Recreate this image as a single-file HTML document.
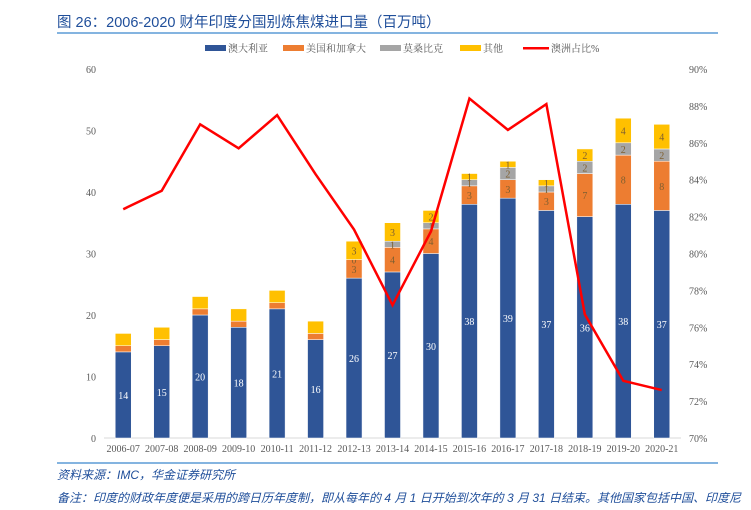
<!DOCTYPE html>
<html><head><meta charset="utf-8"><style>
body{margin:0;background:#fff;width:751px;height:505px;overflow:hidden;font-family:"Liberation Sans","Noto Sans CJK SC",sans-serif}
svg text{font-family:"Liberation Serif","Noto Serif CJK SC",serif}
</style></head><body>
<svg id="c" width="751" height="505">
<text x="57" y="27" font-size="14.5" fill="#1F4E9A" style="font-family:'Liberation Sans','Noto Sans CJK SC',sans-serif">图 26：2006-2020 财年印度分国别炼焦煤进口量（百万吨）</text>
<line x1="57" y1="33" x2="718" y2="33" stroke="#5B9BD5" stroke-width="1.5"/>
<line x1="57" y1="463" x2="718" y2="463" stroke="#5B9BD5" stroke-width="1.5"/>
<text x="57" y="479" font-size="12" fill="#1F4E9A" font-style="italic" style="font-family:'Liberation Sans','Noto Sans CJK SC',sans-serif">资料来源：IMC，华金证券研究所</text>
<text x="57" y="502" font-size="12" fill="#1F4E9A" font-style="italic" style="font-family:'Liberation Sans','Noto Sans CJK SC',sans-serif">备注：印度的财政年度便是采用的跨日历年度制，即从每年的 4 月 1 日开始到次年的 3 月 31 日结束。其他国家包括中国、印度尼</text>
<g id="legend"></g><g id="axes"></g><g id="bars"></g><g id="line"></g>
</svg>
<script>
const categories=["2006-07","2007-08","2008-09","2009-10","2010-11","2011-12","2012-13","2013-14","2014-15","2015-16","2016-17","2017-18","2018-19","2019-20","2020-21"];
const australia=[14,15,20,18,21,16,26,27,30,38,39,37,36,38,37];
const usCanada=[1,1,1,1,1,1,3,4,4,3,3,3,7,8,8];
const mozambique=[0,0,0,0,0,0,0,1,1,1,2,1,2,2,2];
const others=[2,2,2,2,2,2,3,3,2,1,1,1,2,4,4];
const ausShare=[82.4,83.4,87.0,85.7,87.5,84.3,81.3,77.2,81.2,88.4,86.7,88.1,76.7,73.1,72.6];
const leftTicks=[0,10,20,30,40,50,60];
const rightTicks=[70,72,74,76,78,80,82,84,86,88,90];
const seriesNames=["澳大利亚","美国和加拿大","莫桑比克","其他","澳洲占比%"];
const colors=["#2F5597","#ED7D31","#A5A5A5","#FFC000","#FF0000"];
const NS="http://www.w3.org/2000/svg";
const X0=104,X1=681,Y0=438,Y1=69;
const step=(X1-X0)/categories.length;
const xc=i=>X0+step*(i+0.5);
const yL=v=>Y0-(v/60)*(Y0-Y1);
const yR=v=>Y0-((v-70)/20)*(Y0-Y1);
function mk(tag,attrs,parent,txt){const e=document.createElementNS(NS,tag);for(const k in attrs)e.setAttribute(k,attrs[k]);if(txt!==undefined)e.textContent=txt;document.getElementById(parent).appendChild(e);return e;}
let a=mk('line',{x1:X0,x2:X1,y1:Y0,y2:Y0,stroke:'#D9D9D9'},'axes');


leftTicks.forEach(v=>{const t=mk('text',{x:96,y:yL(v)+4,'font-size':10,fill:'#595959','text-anchor':'end'},'axes',v);

});
rightTicks.forEach(v=>{const t=mk('text',{x:689,y:yR(v)+4,'font-size':10,fill:'#595959'},'axes',v+'%');

});
categories.forEach((c,i)=>{const t=mk('text',{x:xc(i),y:452,'font-size':10,fill:'#595959','text-anchor':'middle'},'axes',c);

});
const series=[australia,usCanada,mozambique,others];
const bw=16;
categories.forEach((c,i)=>{let base=0;series.forEach((s,k)=>{const v=s[i];const top=base+v;
 if(v>0){const r=mk('rect',{x:xc(i)-bw/2,y:yL(top),width:bw,height:yL(base)-yL(top),fill:colors[k],stroke:'#fff','stroke-width':0.5},'bars');
 
 }
 const show=k===0||i>=6;
 if(show&&(v>0||(i===6&&k===2))){const t=mk('text',{x:xc(i),y:(yL(base)+yL(top))/2+4,'font-size':10,fill:k===0?'#fff':'#7F5F30','text-anchor':'middle'},'bars',v);
 
 }
 base=top;});});
const pts=ausShare.map((v,i)=>xc(i)+','+yR(v)).join(' ');
const pl=mk('polyline',{points:pts,fill:'none',stroke:colors[4],'stroke-width':2.5,'stroke-linejoin':'miter'},'line');


const lx=[205,283,380,460,523];
seriesNames.forEach((n,k)=>{
 const sw=k===4?mk('rect',{x:lx[k],y:47,width:26,height:2.5,fill:colors[k]},'legend'):mk('rect',{x:lx[k],y:45,width:21,height:6,fill:colors[k]},'legend');
 
 
 const t=mk('text',{x:lx[k]+(k===4?28:23),y:52,'font-size':10,fill:'#595959'},'legend',n);
 
 
});
</script>
</body></html>
